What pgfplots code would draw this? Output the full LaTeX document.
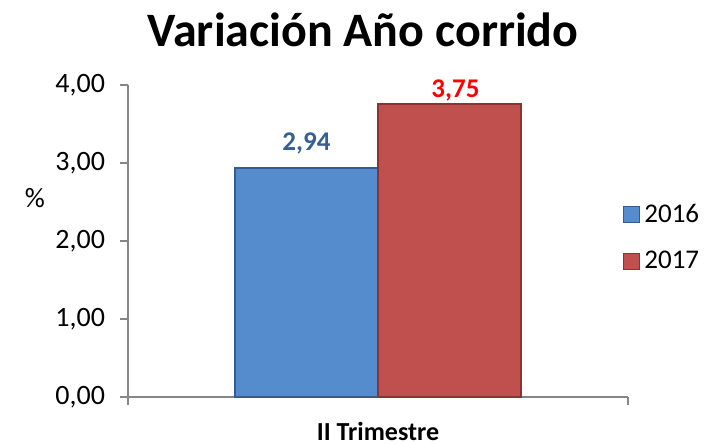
\documentclass[border=0pt]{standalone}
\usepackage{pgfplots}
\pgfplotsset{compat=1.18}
\usepackage{fontspec}
\setmainfont{Carlito}
\definecolor{bluebar}{RGB}{84,140,206}
\definecolor{blueedge}{RGB}{52,92,145}
\definecolor{redbar}{RGB}{192,80,77}
\definecolor{rededge}{RGB}{140,50,48}
\definecolor{bluelab}{RGB}{55,96,146}
\definecolor{axisgray}{RGB}{134,134,134}
\begin{document}
\begin{tikzpicture}
\begin{axis}[
  scale only axis,
  width=250pt, height=156pt,
  at={(0,0)}, anchor=south west,
  xmin=0, xmax=1, ymin=0, ymax=4,
  axis x line*=bottom, axis y line*=left,
  axis line style={axisgray, line width=0.7pt},
  every tick/.style={axisgray, line width=0.7pt},
  tick align=outside,
  major tick length=4pt,
  xtick={0,1}, xticklabels={},
  extra x ticks={0.5},
  extra x tick labels={\textbf{II Trimestre}},
  extra x tick style={major tick length=0pt, xticklabel style={yshift=-9pt}},
  ytick={0,1,2,3,4},
  yticklabel style={/pgf/number format/.cd, fixed, fixed zerofill, precision=2, use comma, /tikz/.cd, font=\fontsize{14}{16}\selectfont, xshift=-4pt},
  /pgf/number format/assume math mode=true,
  xticklabel style={font=\fontsize{13}{15}\selectfont},
  ylabel={\%},
  every axis y label/.style={at={(rel axis cs:0,0.638)}, xshift=-46.5pt, anchor=center, font=\fontsize{14}{16}\selectfont},
  ybar, bar width=0.286,
  legend style={draw=none, at={(rel axis cs:0.99,0.51)}, anchor=west, inner sep=0pt, row sep=9pt, font=\fontsize{13.5}{15}\selectfont, /tikz/every even column/.append style={column sep=0pt}},
  legend image code/.code={\draw[#1, line width=0.5pt] (0pt,-4pt) rectangle (8pt,4pt);},
  clip=false,
]
\addplot[fill=bluebar, draw=blueedge, line width=1pt, bar shift=-0.143,
  nodes near coords, point meta=explicit symbolic,
  every node near coord/.append style={font=\fontsize{13.5}{15}\selectfont\bfseries, text=bluelab, anchor=south, yshift=3pt}]
  coordinates {(0.5,2.94) [2,94]};
\addlegendentry{2016}
\addplot[fill=redbar, draw=rededge, line width=1pt, bar shift=0.143,
  nodes near coords, point meta=explicit symbolic,
  every node near coord/.append style={font=\fontsize{13.5}{15}\selectfont\bfseries, text=red, anchor=south, yshift=-2pt, xshift=3pt}]
  coordinates {(0.5,3.75) [3,75]};
\addlegendentry{2017}
\end{axis}
\node[font=\fontsize{24}{28}\selectfont\bfseries] at (117.5pt,183.5pt) {Variación Año corrido};
\pgfresetboundingbox
\useasboundingbox (-64pt,-23.5pt) rectangle (290pt,198.5pt);
\end{tikzpicture}
\end{document}
